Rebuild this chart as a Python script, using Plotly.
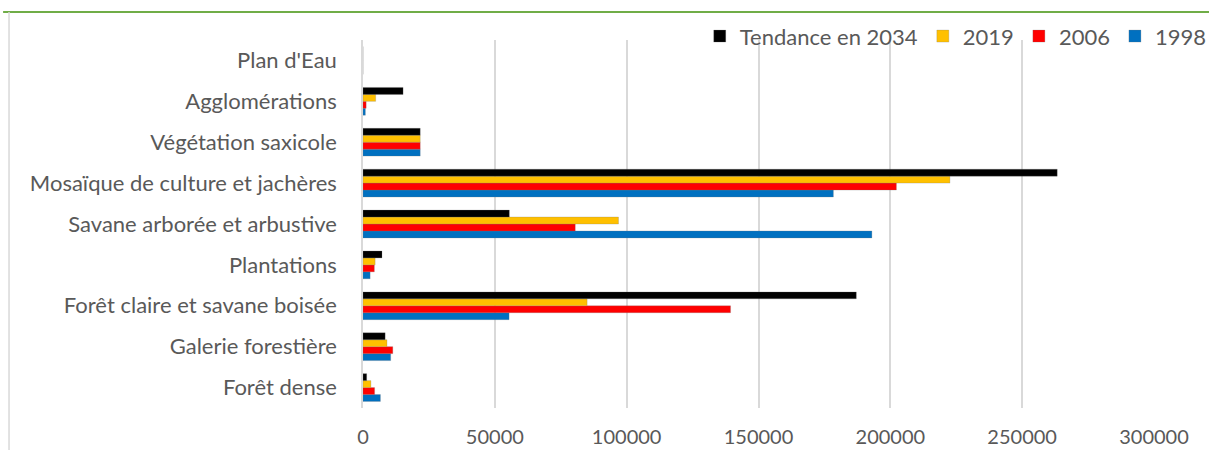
import plotly.graph_objects as go

categories = ["Forêt dense", "Galerie forestière", "Forêt claire et savane boisée",
              "Plantations", "Savane arborée et arbustive", "Mosaïque de culture et jachères",
              "Végétation saxicole", "Agglomérations", "Plan d'Eau"]

v1998 = [6600, 10500, 55400, 2700, 193000, 178400, 21700, 900, 0]
v2006 = [4400, 11300, 139400, 4300, 80500, 202300, 21700, 1200, 0]
v2019 = [3000, 9100, 85000, 4600, 96900, 222600, 21700, 4800, 0]
v2034 = [1400, 8400, 187100, 7200, 55500, 263300, 21700, 15200, 0]

series_names = ["1998", "2006", "2019", "Tendance en 2034"]
series_values = [v1998, v2006, v2019, v2034]
colors = ["#0070C0", "#FF0000", "#FFC000", "#000000"]

tick_vals = [0, 50000, 100000, 150000, 200000, 250000, 300000]
tick_text = ["0", "50000", "100000", "150000", "200000", "250000", "300000"]

FONT = "Lato"
TXT = "#595959"

fig = go.Figure()
for name, vals, col in zip(series_names, series_values, colors):
    fig.add_trace(go.Bar(
        y=categories, x=vals, name=name, orientation="h",
        marker=dict(color=col, line=dict(color="rgba(120,120,120,0.5)", width=0.5)),
    ))

fig.update_layout(
    width=1209, height=450,
    margin=dict(l=363, r=55, t=40, b=42, autoexpand=False),
    paper_bgcolor="white", plot_bgcolor="white",
    barmode="group", bargap=0.32, bargroupgap=0,
    font=dict(family=FONT, color=TXT, size=21),
    showlegend=True,
    legend=dict(orientation="h", x=1.073, xanchor="right", y=1.01, yanchor="middle",
                traceorder="reversed", bgcolor="rgba(0,0,0,0)",
                font=dict(family=FONT, size=22, color=TXT),
                itemwidth=30, tracegroupgap=0),
    xaxis=dict(range=[0, 300000], tickvals=tick_vals, ticktext=tick_text,
               showgrid=True, gridcolor="#D9D9D9", gridwidth=1.5,
               zeroline=False, showline=False, automargin=False,
               ticks="outside", ticklen=11, tickcolor="rgba(0,0,0,0)",
               tickfont=dict(family=FONT, size=20, color=TXT), fixedrange=True),
    yaxis=dict(categoryorder="array", categoryarray=categories,
               showline=True, linecolor="#D9D9D9", linewidth=1.5,
               showgrid=False, ticks="", ticklabelstandoff=20, automargin=False,
               tickfont=dict(family=FONT, size=22, color=TXT)),
)

# chart frame (decorative)
fig.add_shape(type="line", xref="paper", yref="paper",
              x0=-0.455, x1=1.07, y0=1.076, y1=1.076,
              line=dict(color="#70AD47", width=2))
fig.add_shape(type="line", xref="paper", yref="paper",
              x0=-0.4475, x1=-0.4475, y0=1.076, y1=-0.12,
              line=dict(color="#D9D9D9", width=1.5))

fig.write_html("out.html")
